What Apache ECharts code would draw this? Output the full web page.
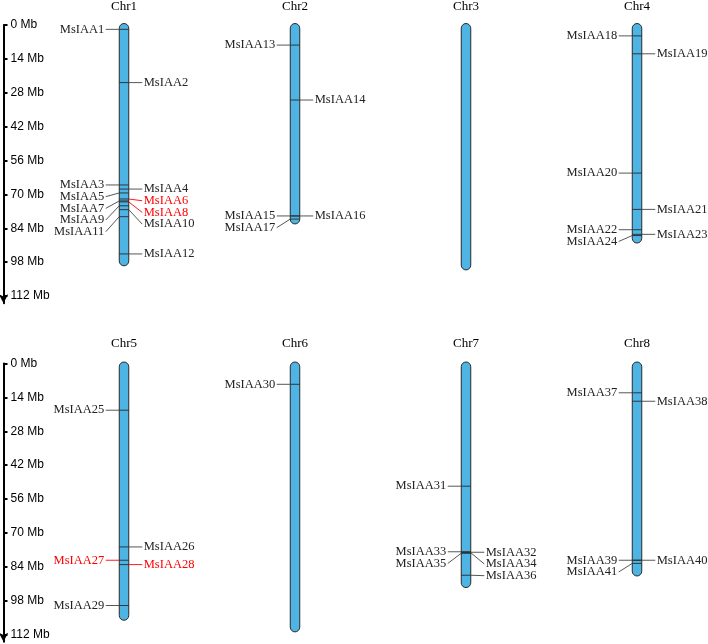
<!DOCTYPE html>
<html><head><meta charset="utf-8">
<script src="https://cdn.jsdelivr.net/npm/echarts@6/dist/echarts.min.js"></script>
<style>html,body{margin:0;padding:0;background:#fff}#c{width:708px;height:644px}</style>
</head><body><div id="c"></div>
<script>
// ---------- data ----------
const chrNames   = ['Chr1','Chr2','Chr3','Chr4','Chr5','Chr6','Chr7','Chr8'];
const chrLengths = [99.5, 82.2, 101.2, 90.1, 106.1, 110.9, 92.6, 87.8];
const topPanelChrs = ['Chr1','Chr2','Chr3','Chr4'];
const bottomPanelChrs = ['Chr5','Chr6','Chr7','Chr8'];
const geneNames = ['MsIAA1','MsIAA2','MsIAA3','MsIAA4','MsIAA5','MsIAA6','MsIAA7','MsIAA8','MsIAA9','MsIAA10',
  'MsIAA11','MsIAA12','MsIAA13','MsIAA14','MsIAA15','MsIAA16','MsIAA17','MsIAA18','MsIAA19','MsIAA20',
  'MsIAA21','MsIAA22','MsIAA23','MsIAA24','MsIAA25','MsIAA26','MsIAA27','MsIAA28','MsIAA29','MsIAA30',
  'MsIAA31','MsIAA32','MsIAA33','MsIAA34','MsIAA35','MsIAA36','MsIAA37','MsIAA38','MsIAA39','MsIAA40','MsIAA41'];
const geneChr = ['Chr1','Chr1','Chr1','Chr1','Chr1','Chr1','Chr1','Chr1','Chr1','Chr1',
  'Chr1','Chr1','Chr2','Chr2','Chr2','Chr2','Chr2','Chr4','Chr4','Chr4',
  'Chr4','Chr4','Chr4','Chr4','Chr5','Chr5','Chr5','Chr5','Chr5','Chr6',
  'Chr7','Chr7','Chr7','Chr7','Chr7','Chr7','Chr8','Chr8','Chr8','Chr8','Chr8'];
const genePos = [1.8, 23.8, 66.1, 67.8, 69.4, 71.9, 72.7, 73.1, 74.7, 76.3,
  79.2, 94.6, 8.3, 31.0, 78.9, 78.9, 80.2, 4.5, 11.9, 61.2,
  76.2, 84.6, 86.5, 87.0, 19.3, 75.8, 81.3, 83.1, 100.0, 8.6,
  50.7, 78.0, 77.8, 78.2, 78.4, 87.5, 12.1, 15.6, 81.3, 81.3, 82.6];
const highlightGenes = ['MsIAA6','MsIAA8','MsIAA27','MsIAA28'];
const tickValues = [0, 14, 28, 42, 56, 70, 84, 98, 112];
const axisMax = 115;

// ---------- rendering ----------
const HW = 4.75, LEAD = 13.5, GAP = 11.7;
function renderChr(params, api) {
  const cat = api.value(0);
  const len = api.value(1);
  const name = chrNames[api.value(2)];
  const p0 = api.coord([cat, 0]);
  const p1 = api.coord([cat, len]);
  const cx = p0[0];
  const children = [{
    type: 'rect',
    shape: { x: cx - HW, y: p0[1] - 1.5, width: HW * 2, height: p1[1] - p0[1] + 1.5, r: HW },
    style: { fill: '#4DB4E4', stroke: '#2a2a2a', lineWidth: 1 }
  }];
  const genes = [];
  geneNames.forEach((g, i) => {
    if (geneChr[i] === name) genes.push({ g, k: genes.length, y: api.coord([cat, genePos[i]])[1] });
  });
  genes.forEach(d => children.push({
    type: 'line', shape: { x1: cx - HW, y1: d.y, x2: cx + HW, y2: d.y },
    style: { stroke: '#2a2a2a', lineWidth: 0.9 }
  }));
  [-1, 1].forEach(dir => {
    const side = genes.filter(d => (dir < 0) === (d.k % 2 === 0)).sort((a, b) => a.y - b.y);
    let prev = -1e9;
    side.forEach(d => {
      const ly = Math.max(d.y, prev + GAP);
      prev = ly;
      const red = highlightGenes.indexOf(d.g) >= 0;
      const col = red ? '#ff0000' : '#222';
      const x0 = cx + dir * HW, x1 = cx + dir * (HW + LEAD);
      children.push({
        type: 'polyline', shape: { points: [[x0, d.y], [x1, ly]] },
        style: { stroke: red ? '#ff0000' : '#444', lineWidth: 0.9, fill: null }
      });
      children.push({
        type: 'text',
        style: {
          x: x1 + dir * 1.5, y: ly, text: d.g,
          align: dir < 0 ? 'right' : 'left', verticalAlign: 'middle',
          fill: col, font: '12.5px "Liberation Serif", "Times New Roman", serif'
        }
      });
    });
  });
  return { type: 'group', children };
}

function panelData(list) {
  return list.map((n, k) => ({ value: [k, chrLengths[chrNames.indexOf(n)], chrNames.indexOf(n)] }));
}

function yAxisFor(gi) {
  return {
    type: 'value', gridIndex: gi, inverse: true, min: 0, max: axisMax,
    position: 'left', offset: 35,
    axisLine: { show: true, symbol: ['arrow', 'none'], symbolSize: [7, 9],
      lineStyle: { color: '#000', width: 2 } },
    axisTick: { show: true, inside: true, length: 4, customValues: tickValues,
      lineStyle: { color: '#000', width: 2 } },
    axisLabel: { show: true, inside: true, margin: 7, customValues: tickValues,
      formatter: '{value} Mb', color: '#000',
      fontFamily: '"Liberation Sans", Arial, sans-serif', fontSize: 12 },
    splitLine: { show: false }
  };
}
function xAxisFor(gi, list, margin) {
  return {
    type: 'category', gridIndex: gi, data: list, position: 'top',
    axisLine: { show: false }, axisTick: { show: false }, splitLine: { show: false },
    axisLabel: { margin, color: '#000', fontFamily: '"Liberation Serif", "Times New Roman", serif', fontSize: 13 }
  };
}

const chart = echarts.init(document.getElementById('c'), null, { renderer: 'canvas' });
chart.setOption({
  animation: false,
  backgroundColor: '#fff',
  grid: [
    { left: 38.5, width: 684, top: 25, height: axisMax * 2.42, containLabel: false, outerBoundsMode: 'none' },
    { left: 38.5, width: 684, top: 363.5, height: axisMax * 2.42, containLabel: false, outerBoundsMode: 'none' }
  ],
  xAxis: [xAxisFor(0, topPanelChrs, 12), xAxisFor(1, bottomPanelChrs, 13)],
  yAxis: [yAxisFor(0), yAxisFor(1)],
  series: [
    { type: 'custom', xAxisIndex: 0, yAxisIndex: 0, clip: false, renderItem: renderChr, data: panelData(topPanelChrs) },
    { type: 'custom', xAxisIndex: 1, yAxisIndex: 1, clip: false, renderItem: renderChr, data: panelData(bottomPanelChrs) }
  ]
});
</script>
</body></html>
